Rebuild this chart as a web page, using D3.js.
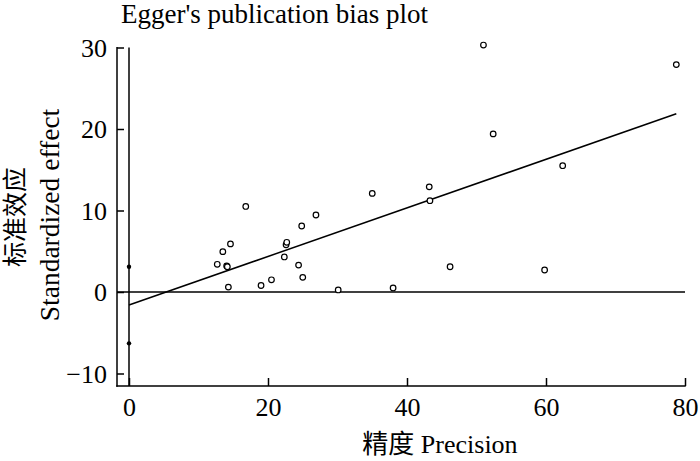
<!DOCTYPE html>
<html>
<head>
<meta charset="utf-8">
<script src="https://d3js.org/d3.v7.min.js"></script>
<style>
  body { margin: 0; background: #fff; }
  .axis path, .axis line { stroke: #000; stroke-width: 1.5; }
</style>
</head>
<body>
<script>
// precision (x) and standardized effect (y) of each study
var precision = [12.7, 13.5, 14.05, 14.15, 14.6, 14.3, 16.8, 19.0, 20.5, 22.35, 22.6, 22.7,
                 24.4, 24.85, 25.0, 26.9, 30.1, 35.0, 38.0, 43.2, 43.3, 46.2, 51.0, 52.4,
                 59.8, 62.4, 78.75];
var stdEffect = [3.4, 4.95, 3.2, 3.1, 5.9, 0.6, 10.5, 0.8, 1.5, 4.3, 5.8, 6.1,
                 3.3, 8.1, 1.8, 9.45, 0.25, 12.1, 0.5, 12.9, 11.2, 3.1, 30.3, 19.4,
                 2.7, 15.5, 27.9];
// Egger regression: intercept, slope and the intercept's confidence limits
var eggerFit = [-1.6, 0.298];
var interceptCI = [-6.3, 3.1];
var xTicks = [0, 20, 40, 60, 80];
var yTicks = [-10, 0, 10, 20, 30];

var serif = '"Liberation Serif", "Times New Roman", "Noto Sans CJK SC", serif';
var width = 700, height = 461;
var svg = d3.select("body").append("svg")
    .attr("width", width).attr("height", height)
    .style("font-family", serif);

var axisX = 117, axisY = 386;
var x = d3.scaleLinear().domain([0, 80]).range([129, 685]);
var y = d3.scaleLinear().domain([-10, 30]).range([373.5, 47.5]);

// title
svg.append("text").attr("x", 121).attr("y", 23)
    .style("font-size", "27px")
    .text("Egger's publication bias plot");

// axes
var yAxis = svg.append("g").attr("class", "axis")
    .attr("transform", "translate(" + axisX + ",0)")
    .call(d3.axisLeft(y).tickValues(yTicks).tickSize(-7).tickSizeOuter(0).tickPadding(10)
        .tickFormat(function(d){ return d < 0 ? "\u2212" + Math.abs(d) : d; }));
yAxis.select(".domain").remove();
yAxis.selectAll("text")
    .style("font-family", serif).style("font-size", "26px").attr("dy", "0.34em");

var xAxis = svg.append("g").attr("class", "axis")
    .attr("transform", "translate(0," + axisY + ")")
    .call(d3.axisBottom(x).tickValues(xTicks).tickSize(-8).tickSizeOuter(0).tickPadding(12));
xAxis.select(".domain").remove();
xAxis.selectAll("text")
    .style("font-family", serif).style("font-size", "26px");

svg.append("line").attr("x1", axisX).attr("x2", axisX)
    .attr("y1", y(30) - 0.5).attr("y2", axisY + 0.75)
    .attr("stroke", "#000").attr("stroke-width", 1.5);
svg.append("line").attr("x1", axisX - 0.75).attr("x2", x(80) + 0.75)
    .attr("y1", axisY).attr("y2", axisY)
    .attr("stroke", "#000").attr("stroke-width", 1.5);

// reference lines: y = 0 and x = 0
svg.append("line").attr("x1", axisX).attr("x2", x(80))
    .attr("y1", y(0)).attr("y2", y(0))
    .attr("stroke", "#000").attr("stroke-width", 1.5);
svg.append("line").attr("x1", x(0)).attr("x2", x(0))
    .attr("y1", y(30)).attr("y2", axisY)
    .attr("stroke", "#000").attr("stroke-width", 1.5);

// regression line
var xEnd = d3.max(precision);
svg.append("line")
    .attr("x1", x(0)).attr("y1", y(eggerFit[0]))
    .attr("x2", x(xEnd)).attr("y2", y(eggerFit[0] + eggerFit[1] * xEnd))
    .attr("stroke", "#000").attr("stroke-width", 1.5);

// intercept confidence limits
svg.selectAll(".ci").data(interceptCI).enter().append("circle")
    .attr("class", "ci")
    .attr("cx", x(0)).attr("cy", function(d){ return y(d); })
    .attr("r", 2.2).attr("fill", "#000");

// studies
svg.selectAll(".pt").data(precision).enter().append("circle")
    .attr("class", "pt")
    .attr("cx", function(d){ return x(d); })
    .attr("cy", function(d, i){ return y(stdEffect[i]); })
    .attr("r", 2.8)
    .attr("fill", "#fff").attr("stroke", "#000").attr("stroke-width", 1.2);

// axis titles
svg.append("text")
    .attr("transform", "translate(24,217) rotate(-90)")
    .attr("text-anchor", "middle").style("font-size", "25px")
    .text("标准效应");
svg.append("text")
    .attr("transform", "translate(59,215) rotate(-90)")
    .attr("text-anchor", "middle").style("font-size", "27.5px")
    .text("Standardized effect");
svg.append("text")
    .attr("x", 440).attr("y", 453)
    .attr("text-anchor", "middle").style("font-size", "26px")
    .text("精度 Precision");
</script>
</body>
</html>
